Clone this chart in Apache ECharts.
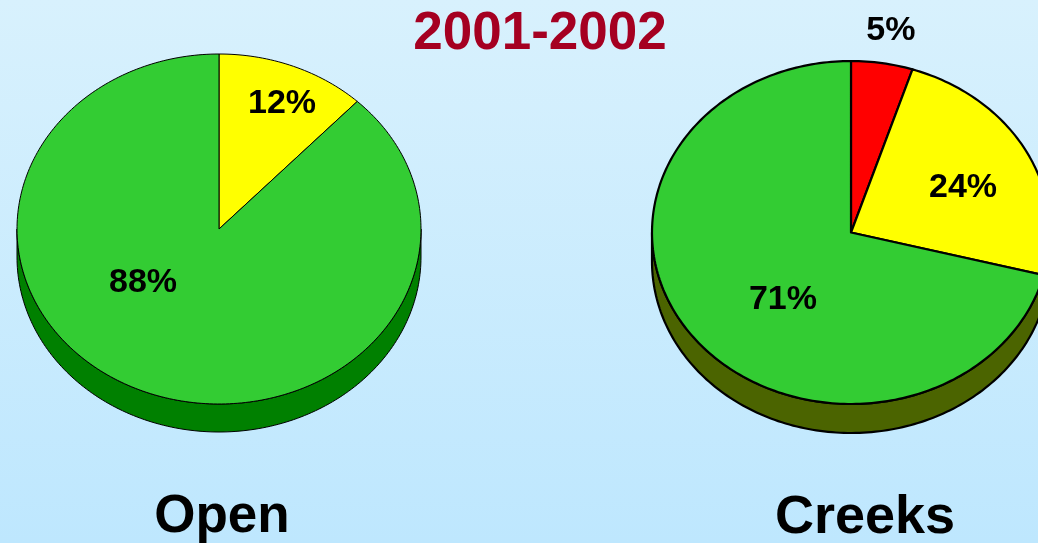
<!DOCTYPE html>
<html>
<head>
<meta charset="utf-8">
<script src="https://cdn.jsdelivr.net/npm/echarts@6/dist/echarts.min.js"></script>
<style>
  html, body { margin: 0; padding: 0; }
  #main { width: 1038px; height: 543px; background: linear-gradient(#d8f1fd, #bee7fe); }
</style>
</head>
<body>
<div id="main"></div>
<script>
// slice order: red, yellow, green (clockwise from 12 o'clock)
var sliceNames = ['Red', 'Yellow', 'Green'];
var openValues = [0, 12, 88];
var creekValues = [5, 24, 71];
var pieNames = ['Open', 'Creeks'];
var yearTitle = '2001-2002';

var topColors = ['#ff0000', '#ffff00', '#33cc33'];
var fontFamily = '"Liberation Sans", Arial, sans-serif';

// tilted 3D pie geometry, label spots are in radius units
var layouts = [
	{cx: 219, cy: 229, rx: 202, ry: 175, depth: 28, lineWidth: 1,
	 sideColors: ['#800000', '#808000', '#008000'],
	 labelSpots: [[0, -0.8], [0.312, -0.714], [-0.376, 0.309]]},
	{cx: 851, cy: 232.5, rx: 199, ry: 171.5, depth: 29, lineWidth: 2.2,
	 sideColors: ['#800000', '#808000', '#4b6400'],
	 labelSpots: [[0.2, -1.18], [0.563, -0.26], [-0.342, 0.394]]}
];

function arcPoints(L, t1, t2, dy) {
	var pts = [];
	var n = Math.max(2, Math.ceil(Math.abs(t2 - t1) / 0.02));
	for (var i = 0; i <= n; i++) {
		var t = t1 + (t2 - t1) * i / n;
		pts.push([L.cx + L.rx * Math.cos(t), L.cy + dy + L.ry * Math.sin(t)]);
	}
	return pts;
}

function sliceAngles(values, idx) {
	var total = values.reduce(function (a, b) { return a + b; }, 0);
	var before = 0;
	for (var i = 0; i < idx; i++) before += values[i];
	var t1 = -Math.PI / 2 + 2 * Math.PI * before / total;
	var t2 = t1 + 2 * Math.PI * values[idx] / total;
	return [t1, t2];
}

function sideSeries(values, L) {
	return {
		type: 'custom',
		coordinateSystem: 'none',
		silent: true,
		z: 1,
		data: values.map(function (v, i) { return [v, i]; }),
		renderItem: function (params, api) {
			var i = params.dataIndex;
			if (!api.value(0)) return;
			var a = sliceAngles(values, i);
			var s1 = Math.max(a[0], 0), s2 = Math.min(a[1], Math.PI);
			if (s2 <= s1) return;
			var pts = arcPoints(L, s1, s2, 0).concat(arcPoints(L, s2, s1, L.depth));
			return {
				type: 'polygon',
				shape: {points: pts},
				style: {fill: L.sideColors[i], stroke: '#000', lineWidth: L.lineWidth}
			};
		}
	};
}

function topSeries(values, L) {
	return {
		type: 'custom',
		coordinateSystem: 'none',
		silent: true,
		z: 2,
		data: values.map(function (v, i) { return [v, i]; }),
		renderItem: function (params, api) {
			var i = params.dataIndex;
			var v = api.value(0);
			if (!v) return;
			var a = sliceAngles(values, i);
			var pts = [[L.cx, L.cy]].concat(arcPoints(L, a[0], a[1], 0));
			var spot = L.labelSpots[i];
			return {
				type: 'group',
				children: [{
					type: 'polygon',
					shape: {points: pts},
					style: {fill: topColors[i], stroke: '#000', lineWidth: L.lineWidth, lineJoin: 'round'}
				}, {
					type: 'text',
					x: L.cx + spot[0] * L.rx,
					y: L.cy + spot[1] * L.ry,
					style: {
						text: v + '%',
						fill: '#000',
						font: 'bold 34px ' + fontFamily,
						align: 'center', verticalAlign: 'middle',
						textAlign: 'center', textVerticalAlign: 'middle'
					}
				}]
			};
		}
	};
}

var myChart = echarts.init(document.getElementById('main'));
var option = {
	animation: false,
	title: [
		{text: yearTitle, left: 535, top: 3, textAlign: 'center', padding: 5,
		 textStyle: {color: '#a50021', fontSize: 53, fontWeight: 'bold', fontFamily: fontFamily}},
		{text: pieNames[0], left: 217, top: 486, textAlign: 'center', padding: 5,
		 textStyle: {color: '#000', fontSize: 53, fontWeight: 'bold', fontFamily: fontFamily}},
		{text: pieNames[1], left: 860, top: 486, textAlign: 'center', padding: 5,
		 textStyle: {color: '#000', fontSize: 54, fontWeight: 'bold', fontFamily: fontFamily}}
	],
	series: [
		sideSeries(openValues, layouts[0]),
		topSeries(openValues, layouts[0]),
		sideSeries(creekValues, layouts[1]),
		topSeries(creekValues, layouts[1])
	]
};
myChart.setOption(option);
</script>
</body>
</html>
